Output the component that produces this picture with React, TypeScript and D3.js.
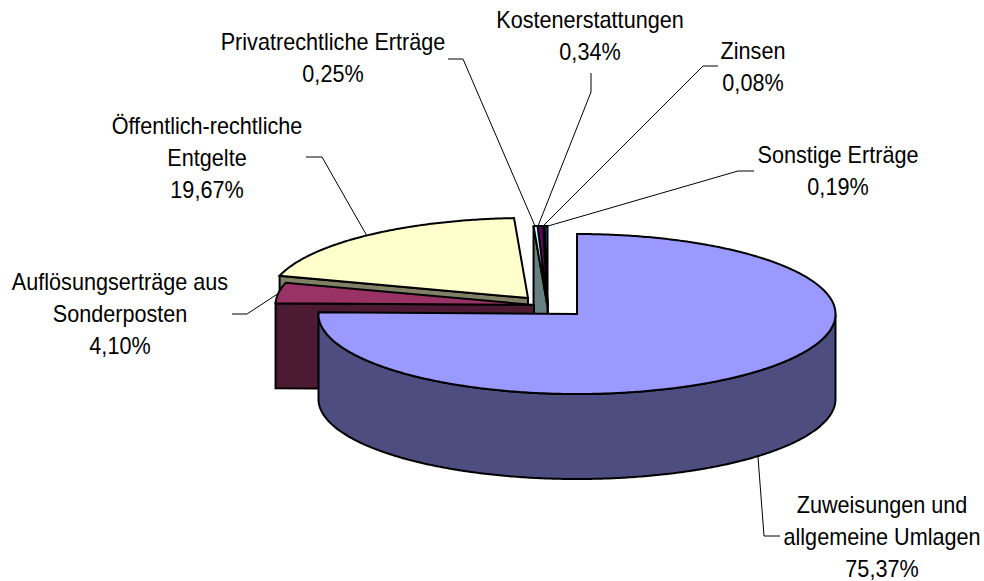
import React from "react";
import * as d3 from "d3";

const categories = ["Zuweisungen und allgemeine Umlagen", "Auflösungserträge aus Sonderposten", "Öffentlich-rechtliche Entgelte", "Privatrechtliche Erträge", "Kostenerstattungen", "Zinsen", "Sonstige Erträge"];
const shares = [75.37, 4.10, 19.67, 0.25, 0.34, 0.08, 0.19];
const shareLabels = ["75,37%", "4,10%", "19,67%", "0,25%", "0,34%", "0,08%", "0,19%"];
const topColors = ["#9999FF", "#993366", "#FFFFCC", "#CCFFFF", "#660066", "#FF8080", "#0066CC"];
const sideColors = ["#4D4D80", "#4D1A33", "#808066", "#668080", "#330033", "#804040", "#003366"];
// pull-out apex of each slice
const apexes: [number, number][] = [[577, 314], [534, 305], [528, 298], [547.5, 306], [547.5, 306], [547.5, 306], [547.5, 306]];
const rx = 258.5, ry = 80, depth = 85;

const labelLines = [["Zuweisungen und", "allgemeine Umlagen", "75,37%"], ["Auflösungserträge aus", "Sonderposten", "4,10%"], ["Öffentlich-rechtliche", "Entgelte", "19,67%"], ["Privatrechtliche Erträge", "0,25%"], ["Kostenerstattungen", "0,34%"], ["Zinsen", "0,08%"], ["Sonstige Erträge", "0,19%"]];
const labelCenters: [number, number][] = [[882, 513], [120, 290], [207, 134], [333, 50], [590, 28], [753, 59], [838, 163]];
const leaders: [number, number][][] = [
  [[780, 536], [764, 536], [758, 457]],
  [[232, 314], [247, 314], [279, 293]],
  [[306, 157], [322, 157], [367, 236]],
  [[448, 59], [463, 59], [535, 226]],
  [[591, 73], [591, 92], [538, 226]],
  [[718, 66], [703, 66], [543, 226]],
  [[754, 171], [738, 171], [548, 226]],
];

const lineGen = d3.line<[number, number]>();
const lineGap = 32;
const xSquash = 0.94;

export default function App() {
  const arcs = d3.pie<number>().sort(null)(shares);
  const pt = (i: number, a: number, dy = 0): [number, number] => [apexes[i][0] + rx * Math.sin(a), apexes[i][1] - ry * Math.cos(a) + dy];
  const arcPts = (i: number, a0: number, a1: number, dy = 0) => {
    const n = Math.max(2, Math.ceil(Math.abs(a1 - a0) / 0.01));
    return d3.range(n + 1).map((k) => pt(i, a0 + ((a1 - a0) * k) / n, dy));
  };
  const order = [6, 5, 4, 3, 2, 1, 0];
  const stroke = { stroke: "#000", strokeWidth: 2, strokeLinejoin: "miter" as const };
  return (
    <svg width={984} height={581} style={{ position: "absolute", left: 0, top: 0 }} fontFamily="'Liberation Sans', Arial, sans-serif">
      <rect width={984} height={581} fill="#fff" />
      {order.map((i) => {
        const { startAngle: a0, endAngle: a1 } = arcs[i];
        const ap = apexes[i];
        const apexBelow: [number, number] = [ap[0], ap[1] + depth];
        const P = Math.PI;
        const wallFrom = Math.max(a0, P / 2), wallTo = Math.min(a1, (3 * P) / 2);
        return (
          <g key={categories[i]}>
            {wallTo > wallFrom && (
              <path d={lineGen([...arcPts(i, wallFrom, wallTo), ...arcPts(i, wallTo, wallFrom, depth)])! + "Z"} fill={sideColors[i]} {...stroke} />
            )}
            {i !== 0 && (
              <path d={lineGen([ap, pt(i, a0), pt(i, a0, depth), apexBelow])! + "Z"} fill={sideColors[i]} {...stroke} />
            )}
            <path d={lineGen([ap, ...arcPts(i, a0, a1)])! + "Z"} fill={topColors[i]} {...stroke} />
          </g>
        );
      })}
      {leaders.map((l, i) => (
        <path key={i} d={lineGen(l)!} fill="none" stroke="#000" strokeWidth={1} />
      ))}
      {labelLines.map((lines, i) => (
        <text key={i} textAnchor="middle" fontSize={23} fill="#000" aria-label={`${categories[i]} ${shareLabels[i]}`}
          transform={`translate(${labelCenters[i][0]},${labelCenters[i][1]}) scale(${xSquash},1)`}>
          {lines.map((t, j) => (
            <tspan key={j} x={0} y={j * lineGap}>{t}</tspan>
          ))}
        </text>
      ))}
    </svg>
  );
}
